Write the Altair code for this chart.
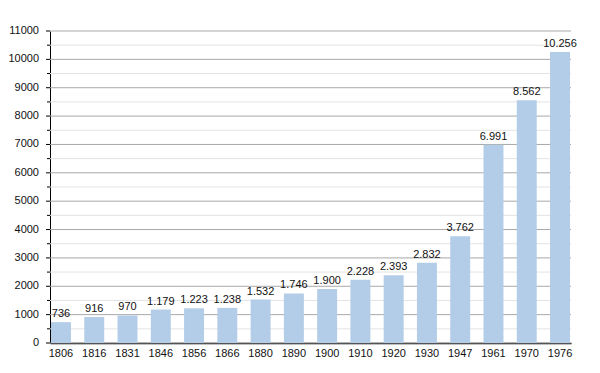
import altair as alt
import pandas as pd

years = ["1806", "1816", "1831", "1846", "1856", "1866", "1880", "1890",
         "1900", "1910", "1920", "1930", "1947", "1961", "1970", "1976"]
population = [736, 916, 970, 1179, 1223, 1238, 1532, 1746,
              1900, 2228, 2393, 2832, 3762, 6991, 8562, 10256]
major_ticks = list(range(0, 11001, 1000))
minor_ticks = list(range(500, 11000, 1000))

df = pd.DataFrame({"year": years, "pop": population})
major_df = pd.DataFrame({"v": major_ticks})
minor_df = pd.DataFrame({"v": minor_ticks})

FONT = "Liberation Sans"
BAR = "#b3cde8"
W, H = 521, 312

x_enc = alt.X("year:N", sort=years, title=None,
              scale=alt.Scale(paddingInner=0.4, paddingOuter=0.03),
              axis=alt.Axis(labelAngle=0, ticks=False, domainColor="#000",
                            domainWidth=1.5, labelFont=FONT, labelFontSize=11,
                            labelColor="#111", labelPadding=4, grid=False))
y_scale = alt.Scale(domain=[0, 11000], nice=False)
y_axis = alt.Axis(labels=False, ticks=False, grid=False, domain=True,
                  domainColor="#000", domainWidth=1)

# light gridlines at the half-thousands (also carries the y axis line)
minor_grid = alt.Chart(minor_df).mark_rule(color="#e3e3e3", strokeWidth=1).encode(
    y=alt.Y("v:Q", title=None, scale=y_scale, axis=y_axis),
    x=alt.value(0), x2=alt.value(W),
)
# darker gridlines at every thousand
major_grid = alt.Chart(major_df).mark_rule(color="#a8a8a8", strokeWidth=1).encode(
    y=alt.Y("v:Q", title=None),
    x=alt.value(0), x2=alt.value(W),
)

bars = alt.Chart(df).mark_bar(color=BAR).encode(
    x=x_enc, y=alt.Y("pop:Q", title=None))

labels = alt.Chart(df).transform_calculate(
    lab="replace(format(datum.pop, ','), ',', '.')"
).mark_text(baseline="bottom", dy=-3, font=FONT, fontSize=11, color="#111").encode(
    x=alt.X("year:N", sort=years),
    y=alt.Y("pop:Q", title=None),
    text="lab:N",
)

major_tick = alt.Chart(major_df).mark_rule(color="#000", strokeWidth=1).encode(
    y=alt.Y("v:Q", title=None),
    x=alt.value(-4), x2=alt.value(0),
)
minor_tick = alt.Chart(minor_df).mark_rule(color="#000", strokeWidth=1).encode(
    y=alt.Y("v:Q", title=None),
    x=alt.value(-3), x2=alt.value(0),
)
tick_labels = alt.Chart(major_df).mark_text(
    align="right", baseline="middle", font=FONT, fontSize=11, color="#111"
).encode(
    y=alt.Y("v:Q", title=None),
    x=alt.value(-11),
    text=alt.Text("v:Q", format="d"),
)

chart = alt.layer(minor_grid, major_grid, bars, labels,
                  major_tick, minor_tick, tick_labels).properties(
    width=W, height=H,
    padding={"left": 0, "top": 17, "right": 10, "bottom": 10},
).configure_view(strokeWidth=0)

chart.save("out.html", embed_options={"renderer": "svg", "actions": False})
